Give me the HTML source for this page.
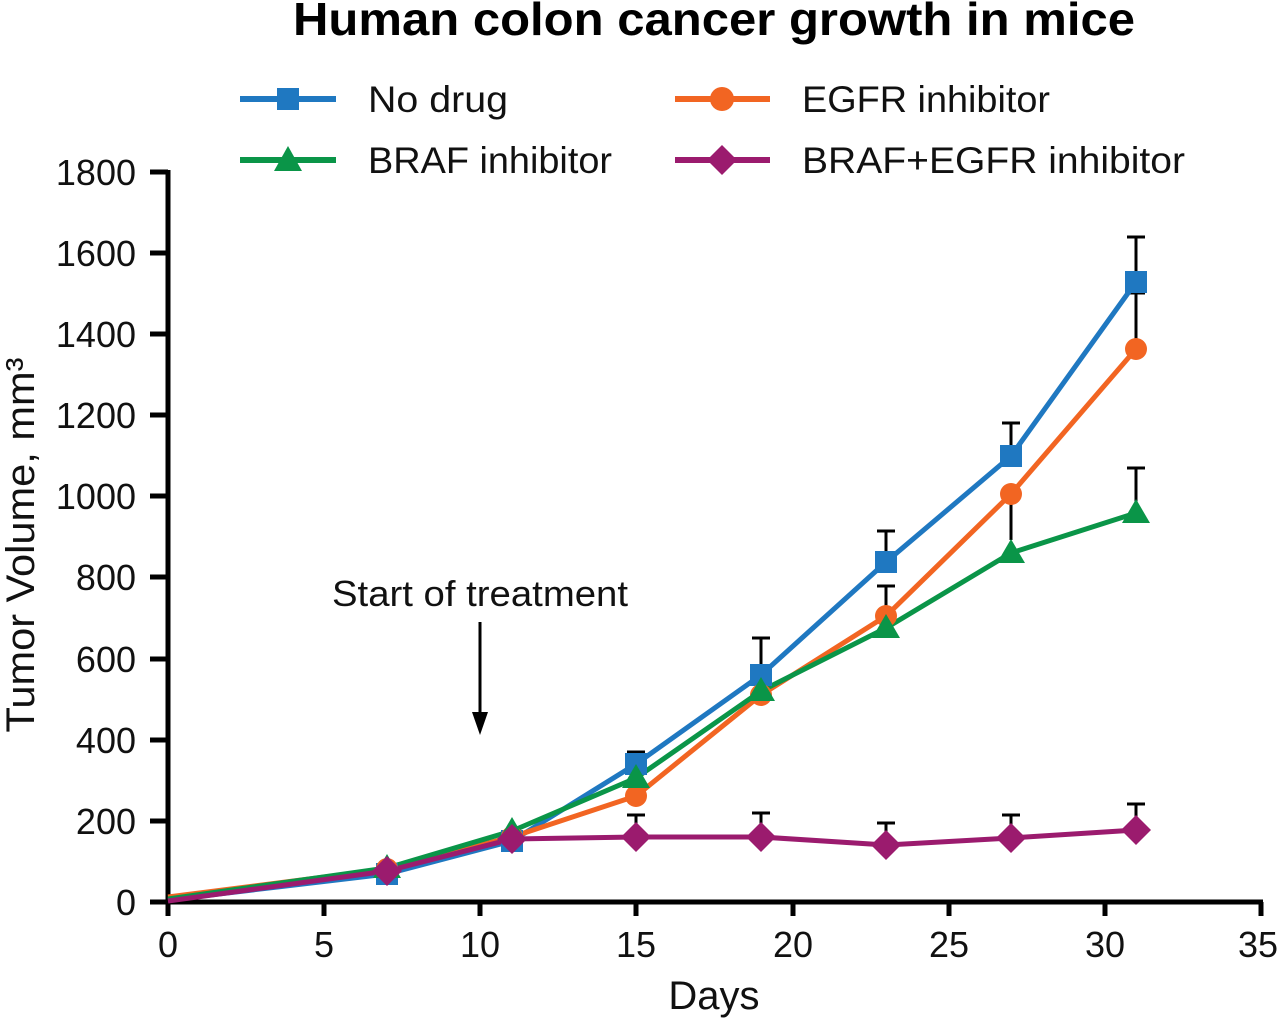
<!DOCTYPE html><html><head><meta charset="utf-8"><style>body{margin:0;background:#fff}svg{display:block}text{font-family:"Liberation Sans",sans-serif}</style></head><body>
<svg width="1280" height="1020" viewBox="0 0 1280 1020" xmlns="http://www.w3.org/2000/svg">
<text x="714" y="35" font-size="46" font-weight="bold" text-anchor="middle" textLength="842" lengthAdjust="spacingAndGlyphs">Human colon cancer growth in mice</text>
<g stroke-width="6" fill="none">
<line x1="240" y1="99" x2="336" y2="99" stroke="#1f78c1"/>
<line x1="675" y1="99" x2="770" y2="99" stroke="#f26522"/>
<line x1="240" y1="160" x2="336" y2="160" stroke="#0a9548"/>
<line x1="675" y1="160" x2="770" y2="160" stroke="#9b1b6e"/>
</g>
<rect x="277" y="88" width="22" height="22" fill="#1f78c1"/>
<circle cx="722" cy="99" r="12" fill="#f26522"/>
<polygon points="288,146 302,171 274,171" fill="#0a9548"/>
<polygon points="722,145 737,160 722,175 707,160" fill="#9b1b6e"/>
<g font-size="37" fill="#111">
<text x="368" y="112" textLength="140" lengthAdjust="spacingAndGlyphs">No drug</text>
<text x="802" y="112" textLength="248" lengthAdjust="spacingAndGlyphs">EGFR inhibitor</text>
<text x="368" y="173" textLength="244" lengthAdjust="spacingAndGlyphs">BRAF inhibitor</text>
<text x="802" y="173" textLength="383" lengthAdjust="spacingAndGlyphs">BRAF+EGFR inhibitor</text>
</g>
<g stroke="#000" stroke-width="5">
<line x1="168" y1="170" x2="168" y2="905"/>
<line x1="166" y1="902" x2="1263" y2="902"/>
</g>
<g stroke="#000" stroke-width="5">
<line x1="150" y1="902" x2="168" y2="902"/><line x1="150" y1="821" x2="168" y2="821"/><line x1="150" y1="740" x2="168" y2="740"/><line x1="150" y1="659" x2="168" y2="659"/><line x1="150" y1="577" x2="168" y2="577"/><line x1="150" y1="496" x2="168" y2="496"/><line x1="150" y1="415" x2="168" y2="415"/><line x1="150" y1="334" x2="168" y2="334"/><line x1="150" y1="253" x2="168" y2="253"/><line x1="150" y1="172" x2="168" y2="172"/>
<line x1="168" y1="902" x2="168" y2="916"/><line x1="324" y1="902" x2="324" y2="916"/><line x1="480" y1="902" x2="480" y2="916"/><line x1="636" y1="902" x2="636" y2="916"/><line x1="793" y1="902" x2="793" y2="916"/><line x1="949" y1="902" x2="949" y2="916"/><line x1="1105" y1="902" x2="1105" y2="916"/><line x1="1261" y1="902" x2="1261" y2="916"/>
</g>
<g font-size="36" text-anchor="end" fill="#111">
<text x="136" y="915">0</text><text x="136" y="834">200</text><text x="136" y="753">400</text><text x="136" y="672">600</text><text x="136" y="590">800</text><text x="136" y="509">1000</text><text x="136" y="428">1200</text><text x="136" y="347">1400</text><text x="136" y="266">1600</text><text x="136" y="185">1800</text>
</g>
<g font-size="36" text-anchor="middle" fill="#111">
<text x="168" y="957">0</text><text x="324" y="957">5</text><text x="480" y="957">10</text><text x="636" y="957">15</text><text x="793" y="957">20</text><text x="949" y="957">25</text><text x="1105" y="957">30</text><text x="1258" y="957">35</text>
<text x="714" y="1009" font-size="40">Days</text>
</g>
<text transform="translate(34,545) rotate(-90)" font-size="40" text-anchor="middle" fill="#111" textLength="375" lengthAdjust="spacingAndGlyphs">Tumor Volume, mm³</text>
<text x="480" y="606" font-size="36" text-anchor="middle" fill="#111" textLength="296" lengthAdjust="spacingAndGlyphs">Start of treatment</text>
<line x1="480" y1="622" x2="480" y2="720" stroke="#000" stroke-width="3"/>
<polygon points="472,712 488,712 480,735" fill="#000"/>
<g stroke="#000" stroke-width="3">
<line x1="636" y1="764" x2="636" y2="752"/><line x1="627" y1="752" x2="645" y2="752"/>
<line x1="761" y1="675" x2="761" y2="638"/><line x1="752" y1="638" x2="770" y2="638"/>
<line x1="886" y1="562" x2="886" y2="531"/><line x1="877" y1="531" x2="895" y2="531"/>
<line x1="1011" y1="456" x2="1011" y2="423"/><line x1="1002" y1="423" x2="1020" y2="423"/>
<line x1="1136" y1="282" x2="1136" y2="237"/><line x1="1127" y1="237" x2="1145" y2="237"/>
<line x1="886" y1="616" x2="886" y2="586"/><line x1="877" y1="586" x2="895" y2="586"/>
<line x1="1011" y1="494" x2="1011" y2="540"/>
<line x1="1136" y1="349" x2="1136" y2="293"/><line x1="1127" y1="293" x2="1145" y2="293"/>
<line x1="1136" y1="513" x2="1136" y2="468"/><line x1="1127" y1="468" x2="1145" y2="468"/>
<line x1="636" y1="837" x2="636" y2="815"/><line x1="627" y1="815" x2="645" y2="815"/>
<line x1="761" y1="837" x2="761" y2="813"/><line x1="752" y1="813" x2="770" y2="813"/>
<line x1="886" y1="845" x2="886" y2="823"/><line x1="877" y1="823" x2="895" y2="823"/>
<line x1="1011" y1="838" x2="1011" y2="815"/><line x1="1002" y1="815" x2="1020" y2="815"/>
<line x1="1136" y1="830" x2="1136" y2="804"/><line x1="1127" y1="804" x2="1145" y2="804"/>
</g>
<g fill="none" stroke-width="5" stroke-linejoin="round">
<polyline stroke="#1f78c1" points="168,900 387,874 512,841 636,764 761,675 886,562 1011,456 1136,282"/>
<polyline stroke="#f26522" points="168,897 387,869 512,837 636,796 761,695 886,616 1011,494 1136,349"/>
<polyline stroke="#0a9548" points="168,899 387,868 512,831 636,778 761,691 886,628 1011,553 1136,513"/>
<polyline stroke="#9b1b6e" points="168,901 387,871 512,839 636,837 761,837 886,845 1011,838 1136,830"/>
</g>
<g fill="#1f78c1">
<rect x="376" y="863" width="22" height="22"/><rect x="501" y="830" width="22" height="22"/><rect x="625" y="753" width="22" height="22"/><rect x="750" y="664" width="22" height="22"/><rect x="875" y="551" width="22" height="22"/><rect x="1000" y="445" width="22" height="22"/><rect x="1125" y="271" width="22" height="22"/>
</g>
<g fill="#f26522">
<circle cx="387" cy="869" r="11"/><circle cx="512" cy="837" r="11"/><circle cx="636" cy="796" r="11"/><circle cx="761" cy="695" r="11"/><circle cx="886" cy="616" r="11"/><circle cx="1011" cy="494" r="11"/><circle cx="1136" cy="349" r="11"/>
</g>
<g fill="#0a9548">
<polygon points="387,854 401,878 373,878"/><polygon points="512,817 526,841 498,841"/><polygon points="636,764 650,788 622,788"/><polygon points="761,677 775,701 747,701"/><polygon points="886,614 900,638 872,638"/><polygon points="1011,539 1025,563 997,563"/><polygon points="1136,499 1150,523 1122,523"/>
</g>
<g fill="#9b1b6e">
<polygon points="387,856 402,871 387,886 372,871"/><polygon points="512,824 527,839 512,854 497,839"/><polygon points="636,822 651,837 636,852 621,837"/><polygon points="761,822 776,837 761,852 746,837"/><polygon points="886,830 901,845 886,860 871,845"/><polygon points="1011,823 1026,838 1011,853 996,838"/><polygon points="1136,815 1151,830 1136,845 1121,830"/>
</g>
</svg>
</body></html>
